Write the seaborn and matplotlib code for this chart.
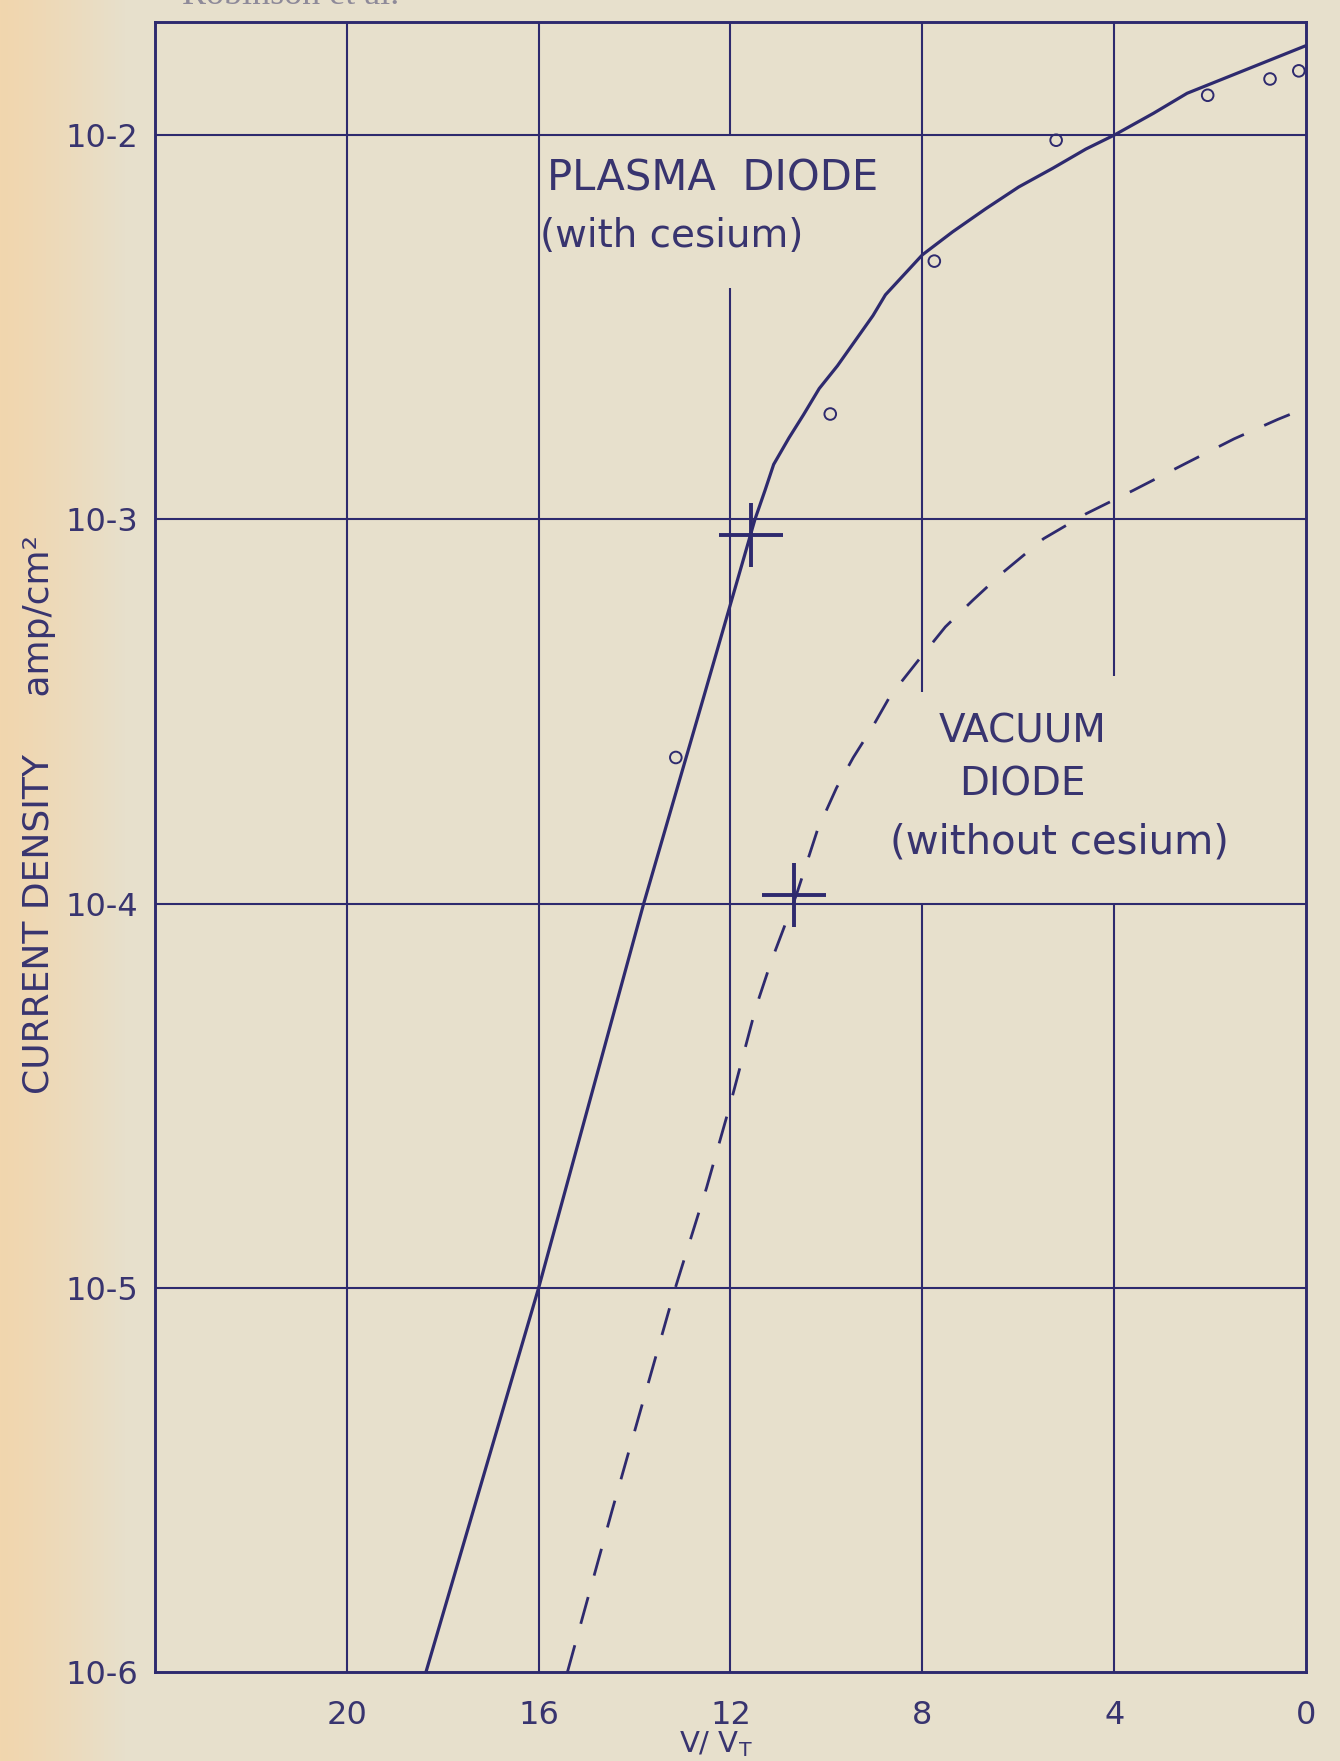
import numpy as np
import pandas as pd
import matplotlib
matplotlib.use("Agg")
import matplotlib.pyplot as plt
import seaborn as sns
from matplotlib.colors import to_rgb
from matplotlib.ticker import NullLocator

# ---- data: V/V_T and current density (amp/cm^2) ----
plasma_v = [18.35, 16.0, 13.81, 12.55, 11.49, 11.28, 11.1, 10.78, 10.48, 10.15,
            9.77, 9.03, 8.77, 8.0, 7.37, 6.68, 5.99, 5.28, 4.59, 4.0, 3.18,
            2.48, 0.0]
plasma_j = [1.0e-6, 1.0e-5, 1.0e-4, 3.48e-4, 1.0e-3, 1.19e-3, 1.39e-3, 1.63e-3,
            1.87e-3, 2.19e-3, 2.51e-3, 3.39e-3, 3.84e-3, 4.88e-3, 5.60e-3,
            6.43e-3, 7.33e-3, 8.20e-3, 9.20e-3, 1.0e-2, 1.14e-2, 1.285e-2,
            1.71e-2]

vacuum_v = [15.4, 14.47, 13.15, 12.5, 12.0, 11.47, 11.15, 10.63, 10.19, 9.79,
            9.44, 9.04, 8.67, 8.1, 7.52, 6.94, 6.34, 5.47, 4.58, 3.6, 2.5,
            1.5, 0.59, 0.0]
vacuum_j = [1.0e-6, 2.63e-6, 1.0e-5, 1.82e-5, 3.02e-5, 5.37e-5, 7.08e-5, 1.05e-4,
            1.55e-4, 2.0e-4, 2.4e-4, 2.88e-4, 3.47e-4, 4.27e-4, 5.25e-4,
            6.17e-4, 7.24e-4, 8.91e-4, 1.035e-3, 1.19e-3, 1.40e-3, 1.62e-3,
            1.82e-3, 1.95e-3]

measured_v = [13.14, 9.92, 7.75, 5.21, 2.05, 0.75, 0.15]
measured_j = [2.4e-4, 1.88e-3, 4.7e-3, 9.7e-3, 1.27e-2, 1.40e-2, 1.47e-2]

cross_v = [11.58, 10.67]
cross_j = [9.1e-4, 1.05e-4]

x_ticks = [20, 16, 12, 8, 4, 0]
x_tick_labels = ["20", "16", "12", "8", "4", "0"]
y_ticks = [1e-6, 1e-5, 1e-4, 1e-3, 1e-2]
y_tick_labels = ["10-6", "10-5", "10-4", "10-3", "10-2"]

X_MAX, X_MIN = 24.0, 0.0
Y_MIN, Y_MAX = 1e-6, 1.97e-2

INK = "#2e2a6e"
TEXT = "#38346f"
PAPER = "#e7e0cc"
MARGIN = "#f1d6ae"

sns.set_theme(style="white")
plt.rcParams["font.family"] = ["DejaVu Sans"]
plt.rcParams["mathtext.fontset"] = "dejavusans"

fig = plt.figure(figsize=(13.4, 17.61), dpi=100, facecolor=PAPER)

# paper tint, warmer towards the left margin
bg = fig.add_axes([0, 0, 1, 1], zorder=-10)
xs = np.arange(1340)
t = np.clip(xs / 125.0, 0, 1) ** 1.2
c0 = np.array(to_rgb(MARGIN))
c1 = np.array(to_rgb(PAPER))
row = c0[None, :] * (1 - t[:, None]) + c1[None, :] * t[:, None]
img = np.repeat(row[None, :, :], 8, axis=0)
bg.imshow(img, aspect="auto", extent=[0, 1, 0, 1])
bg.set_axis_off()

ax = fig.add_axes([155 / 1340, 1 - 1672 / 1761, 1151 / 1340, 1650 / 1761])
ax.set_facecolor(PAPER)
ax.set_yscale("log")
ax.set_xlim(X_MAX, X_MIN)
ax.set_ylim(Y_MIN, Y_MAX)

# grid lines, with breaks where the annotations sit
grid_kw = dict(color=INK, lw=1.5, zorder=1)
for yv in [1e-5, 1e-4, 1e-3, 1e-2]:
    ax.hlines(yv, X_MAX, X_MIN, **grid_kw)
for xv in [20, 16]:
    ax.vlines(xv, Y_MIN, Y_MAX, **grid_kw)
ax.vlines(12, Y_MIN, 4.0e-3, **grid_kw)
ax.vlines(12, 1e-2, Y_MAX, **grid_kw)
ax.vlines(8, Y_MIN, 1e-4, **grid_kw)
ax.vlines(8, 3.55e-4, Y_MAX, **grid_kw)
ax.vlines(4, Y_MIN, 1e-4, **grid_kw)
ax.vlines(4, 3.9e-4, Y_MAX, **grid_kw)

plasma = pd.DataFrame({"v": plasma_v, "j": plasma_j})
vacuum = pd.DataFrame({"v": vacuum_v, "j": vacuum_j})
measured = pd.DataFrame({"v": measured_v, "j": measured_j})

sns.lineplot(data=plasma, x="v", y="j", sort=False, estimator=None,
             color=INK, lw=2.3, ax=ax, zorder=3)
sns.lineplot(data=vacuum, x="v", y="j", sort=False, estimator=None,
             color=INK, lw=2.0, dashes=False, ax=ax, zorder=3,
             linestyle=(0, (10, 8)))
sns.scatterplot(data=measured, x="v", y="j", marker="o", s=70,
                facecolor="none", edgecolor=INK, linewidth=1.4, ax=ax, zorder=4)
ax.plot(cross_v, cross_j, linestyle="none", marker="+", ms=46, mew=2.8,
        color=INK, zorder=5)

ax.set_xlim(X_MAX, X_MIN)
ax.set_ylim(Y_MIN, Y_MAX)

for s in ax.spines.values():
    s.set_visible(True)
    s.set_color(INK)
    s.set_linewidth(2.1)

ax.set_xticks(x_ticks)
ax.set_xticklabels(x_tick_labels)
ax.set_yticks(y_ticks)
ax.set_yticklabels(y_tick_labels)
ax.yaxis.set_minor_locator(NullLocator())
ax.tick_params(axis="both", length=0, labelcolor=TEXT, labelsize=23)
ax.tick_params(axis="x", pad=20)
ax.tick_params(axis="y", pad=12)

ax.set_xlabel(r"V/ V$_\mathrm{T}$", fontsize=21, color=TEXT)
ax.xaxis.set_label_coords(0.487, -0.0345)
ax.set_ylabel("CURRENT DENSITY     amp/cm²", fontsize=26, color=TEXT)
ax.yaxis.set_label_coords(-0.086, 0.52)

ax.text(15.83, 10 ** -2.143, "PLASMA  DIODE", fontsize=30, color=TEXT,
        ha="left", va="baseline", zorder=6)
ax.text(15.98, 10 ** -2.29, "(with cesium)", fontsize=28, color=TEXT,
        ha="left", va="baseline", zorder=6)
ax.text(5.92, 10 ** -3.58, "VACUUM", fontsize=28, color=TEXT,
        ha="center", va="baseline", zorder=6)
ax.text(5.92, 10 ** -3.72, "DIODE", fontsize=28, color=TEXT,
        ha="center", va="baseline", zorder=6)
ax.text(5.15, 10 ** -3.87, "(without cesium)", fontsize=29, color=TEXT,
        ha="center", va="baseline", zorder=6)

fig.text(182 / 1340, 1 - 4 / 1761, "Robinson et al.", fontsize=26,
         family=["Liberation Serif", "DejaVu Serif"], color="#8e8a99",
         ha="left", va="baseline")

fig.savefig("out.png", dpi=100, facecolor=PAPER)
